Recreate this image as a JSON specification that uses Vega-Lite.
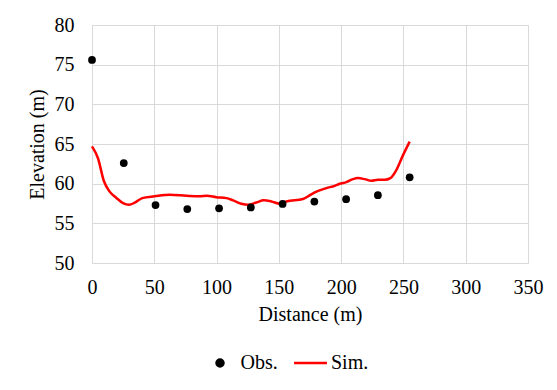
{
  "$schema": "https://vega.github.io/schema/vega-lite/v6.json",
  "width": 436,
  "height": 238,
  "autosize": {"type": "none"},
  "padding": {"left": 92, "top": 25, "right": 29, "bottom": 127},
  "background": "white",
  "config": {
    "font": "Liberation Serif",
    "view": {"stroke": null},
    "axis": {
      "labelFont": "Liberation Serif",
      "titleFont": "Liberation Serif",
      "labelFontSize": 20,
      "titleFontSize": 20,
      "titleFontWeight": "normal",
      "labelColor": "#000000",
      "titleColor": "#000000",
      "gridColor": "#d9d9d9",
      "domainColor": "#d9d9d9",
      "ticks": false
    },
    "legend": {
      "labelFont": "Liberation Serif",
      "labelFontSize": 20,
      "labelColor": "#000000"
    }
  },
  "datasets": {
    "obs": [
      {"distance": 0, "elevation": 75.6, "series": "Obs."},
      {"distance": 25.5, "elevation": 62.6, "series": "Obs."},
      {"distance": 51, "elevation": 57.3, "series": "Obs."},
      {"distance": 76.5, "elevation": 56.8, "series": "Obs."},
      {"distance": 102, "elevation": 56.9, "series": "Obs."},
      {"distance": 127.5, "elevation": 57.0, "series": "Obs."},
      {"distance": 153, "elevation": 57.45, "series": "Obs."},
      {"distance": 178.5, "elevation": 57.75, "series": "Obs."},
      {"distance": 204, "elevation": 58.05, "series": "Obs."},
      {"distance": 229.5, "elevation": 58.55, "series": "Obs."},
      {"distance": 255, "elevation": 60.8, "series": "Obs."}
    ],
    "sim": [
      {"distance": 0, "elevation": 64.7, "series": "Sim."},
      {"distance": 4.8, "elevation": 63.2, "series": "Sim."},
      {"distance": 9.6, "elevation": 60.3, "series": "Sim."},
      {"distance": 14.2, "elevation": 59.0, "series": "Sim."},
      {"distance": 19.6, "elevation": 58.2, "series": "Sim."},
      {"distance": 24.9, "elevation": 57.55, "series": "Sim."},
      {"distance": 29.7, "elevation": 57.34, "series": "Sim."},
      {"distance": 34.3, "elevation": 57.6, "series": "Sim."},
      {"distance": 40.4, "elevation": 58.18, "series": "Sim."},
      {"distance": 50.3, "elevation": 58.4, "series": "Sim."},
      {"distance": 62.4, "elevation": 58.6, "series": "Sim."},
      {"distance": 75.8, "elevation": 58.47, "series": "Sim."},
      {"distance": 86.5, "elevation": 58.4, "series": "Sim."},
      {"distance": 92, "elevation": 58.47, "series": "Sim."},
      {"distance": 99.8, "elevation": 58.3, "series": "Sim."},
      {"distance": 107.9, "elevation": 58.18, "series": "Sim."},
      {"distance": 113.2, "elevation": 57.9, "series": "Sim."},
      {"distance": 119.9, "elevation": 57.47, "series": "Sim."},
      {"distance": 125.2, "elevation": 57.34, "series": "Sim."},
      {"distance": 132, "elevation": 57.63, "series": "Sim."},
      {"distance": 137.8, "elevation": 57.9, "series": "Sim."},
      {"distance": 144, "elevation": 57.76, "series": "Sim."},
      {"distance": 150.7, "elevation": 57.47, "series": "Sim."},
      {"distance": 156, "elevation": 57.76, "series": "Sim."},
      {"distance": 169.4, "elevation": 58.06, "series": "Sim."},
      {"distance": 173.4, "elevation": 58.4, "series": "Sim."},
      {"distance": 178.8, "elevation": 58.9, "series": "Sim."},
      {"distance": 188.2, "elevation": 59.44, "series": "Sim."},
      {"distance": 194.8, "elevation": 59.73, "series": "Sim."},
      {"distance": 198.8, "elevation": 59.99, "series": "Sim."},
      {"distance": 204.2, "elevation": 60.2, "series": "Sim."},
      {"distance": 209.5, "elevation": 60.57, "series": "Sim."},
      {"distance": 213.5, "elevation": 60.7, "series": "Sim."},
      {"distance": 218.9, "elevation": 60.57, "series": "Sim."},
      {"distance": 224.3, "elevation": 60.36, "series": "Sim."},
      {"distance": 229.6, "elevation": 60.49, "series": "Sim."},
      {"distance": 235, "elevation": 60.49, "series": "Sim."},
      {"distance": 239.5, "elevation": 60.7, "series": "Sim."},
      {"distance": 244.4, "elevation": 61.75, "series": "Sim."},
      {"distance": 249.7, "elevation": 63.6, "series": "Sim."},
      {"distance": 255, "elevation": 65.3, "series": "Sim."}
    ]
  },
  "encoding": {
    "x": {
      "field": "distance",
      "type": "quantitative",
      "title": "Distance (m)",
      "scale": {"domain": [0, 350], "nice": false},
      "axis": {"values": [0, 50, 100, 150, 200, 250, 300, 350], "labelFont": "Liberation Serif", "titleFont": "Liberation Serif", "labelPadding": 14, "titlePadding": 7, "labelFlush": false}
    },
    "y": {
      "field": "elevation",
      "type": "quantitative",
      "title": "Elevation (m)",
      "scale": {"domain": [50, 80], "nice": false, "zero": false},
      "axis": {"values": [50, 55, 60, 65, 70, 75, 80], "labelFont": "Liberation Serif", "titleFont": "Liberation Serif", "labelPadding": 18, "titlePadding": 7, "labelFlush": false}
    },
    "color": {
      "field": "series",
      "type": "nominal",
      "scale": {"domain": ["Obs.", "Sim."], "range": ["#000000", "#ff0000"]},
      "legend": {
        "title": null,
        "orient": "none",
        "direction": "horizontal",
        "legendX": 118,
        "legendY": 328,
        "padding": 0,
        "symbolSize": 49,
        "symbolStrokeWidth": 2.5,
        "labelOffset": 10.5,
        "columnPadding": 10.5,
        "encode": {
          "symbols": {
            "update": {
              "stroke": {"scale": "color", "field": "value"},
              "strokeWidth": {"value": 2.5}
            }
          }
        }
      }
    }
  },
  "layer": [
    {
      "data": {"name": "sim"},
      "mark": {"type": "line", "strokeWidth": 2.5, "interpolate": "monotone"}
    },
    {
      "data": {"name": "obs"},
      "mark": {"type": "point", "filled": true, "size": 60, "opacity": 1},
      "encoding": {
        "shape": {
          "field": "series",
          "type": "nominal",
          "scale": {"domain": ["Obs.", "Sim."], "range": ["circle", "M-4.7,0H4.7"]},
          "legend": {
            "title": null,
            "orient": "none",
            "direction": "horizontal",
            "legendX": 118,
            "legendY": 328,
            "padding": 0,
            "symbolSize": 49,
            "labelOffset": 10.5,
            "columnPadding": 10.5
          }
        }
      }
    }
  ]
}
